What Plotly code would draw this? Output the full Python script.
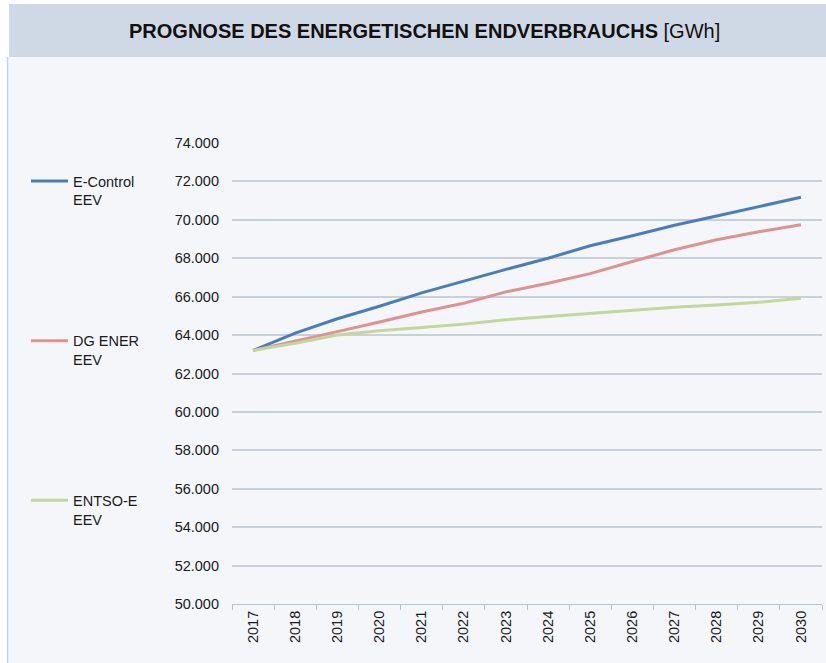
import plotly.graph_objects as go

years = [str(y) for y in range(2017, 2031)]
econtrol = [63200, 64100, 64850, 65500, 66200, 66820, 67420, 68000, 68650, 69170, 69720, 70200, 70700, 71180]
dgener = [63200, 63680, 64180, 64680, 65200, 65660, 66250, 66700, 67200, 67830, 68440, 68960, 69380, 69740]
entsoe = [63200, 63580, 64000, 64230, 64400, 64570, 64800, 64960, 65120, 65280, 65450, 65570, 65710, 65920]

series_names = ["E-Control<br>EEV", "DG ENER<br>EEV", "ENTSO-E<br>EEV"]
series_values = [econtrol, dgener, entsoe]
series_colors = ["#4a7ebb", "#dd9391", "#c3d69b"]

title_main = "PROGNOSE DES ENERGETISCHEN ENDVERBRAUCHS"
title_unit = "[GWh]"

W, H = 826, 663
L, R, T, B = 232, 4, 143, 59
pw, ph = W - L - R, H - T - B

def px_x(x):
    return (x - L) / pw

def px_y(y):
    return (H - B - y) / ph

fig = go.Figure()
for i, (name, vals, col) in enumerate(zip(series_names, series_values, series_colors)):
    fig.add_trace(go.Scatter(
        x=years, y=vals, mode="lines", name=name,
        line=dict(color=col, width=3),
        legendgroup=f"g{i}",
    ))

font_family = "Liberation Sans, Arial, sans-serif"

fig.update_layout(
    width=W, height=H,
    margin=dict(l=L, r=R, t=T, b=B, pad=0),
    paper_bgcolor="white",
    plot_bgcolor="rgba(0,0,0,0)",
    separators=",.",
    font=dict(family=font_family, size=14.5, color="#1a1a1a"),
    showlegend=True,
    legend=dict(
        x=px_x(26), xanchor="left", y=px_y(165), yanchor="top",
        bgcolor="rgba(0,0,0,0)", valign="top",
        tracegroupgap=119, itemwidth=37,
        font=dict(size=14.5, color="#1a1a1a"),
    ),
    xaxis=dict(
        type="category", tickangle=-90, showgrid=False,
        showline=True, linecolor="#b9c3d0", linewidth=1,
        ticks="outside", tickson="boundaries", ticklen=5, tickcolor="#b9c3d0",
        tickfont=dict(size=14.5, color="#1a1a1a"),
        range=[-0.5, 13.5], fixedrange=True,
    ),
    yaxis=dict(
        range=[50000, 74000], dtick=2000, tick0=50000,
        tickformat=",.0f", showgrid=True, gridcolor="#c8d0dc", gridwidth=1.5,
        showline=False, zeroline=False, ticks="",
        ticklabelstandoff=12,
        tickfont=dict(size=14.5, color="#1a1a1a"),
    ),
)

# background panels
fig.add_shape(type="rect", xref="paper", yref="paper", layer="below",
              x0=px_x(7), x1=px_x(W + 5), y0=px_y(H + 5), y1=px_y(57),
              fillcolor="#f4f6fa", line=dict(width=0))
fig.add_shape(type="line", xref="paper", yref="paper", layer="below",
              x0=px_x(7.5), x1=px_x(7.5), y0=px_y(H + 5), y1=px_y(57),
              line=dict(color="#c9d2de", width=1.5))
fig.add_shape(type="rect", xref="paper", yref="paper", layer="below",
              x0=px_x(9), x1=px_x(W + 5), y0=px_y(57), y1=px_y(4),
              fillcolor="#cfd9e5", line=dict(width=0))

fig.add_annotation(
    xref="paper", yref="paper", x=px_x(424), y=px_y(31),
    xanchor="center", yanchor="middle", showarrow=False,
    text=f"<b>{title_main}</b> {title_unit}",
    font=dict(family=font_family, size=20, color="#111111"),
)

fig.write_html("out.html", config={"displayModeBar": False},
               post_script="document.body.style.margin='0';")
